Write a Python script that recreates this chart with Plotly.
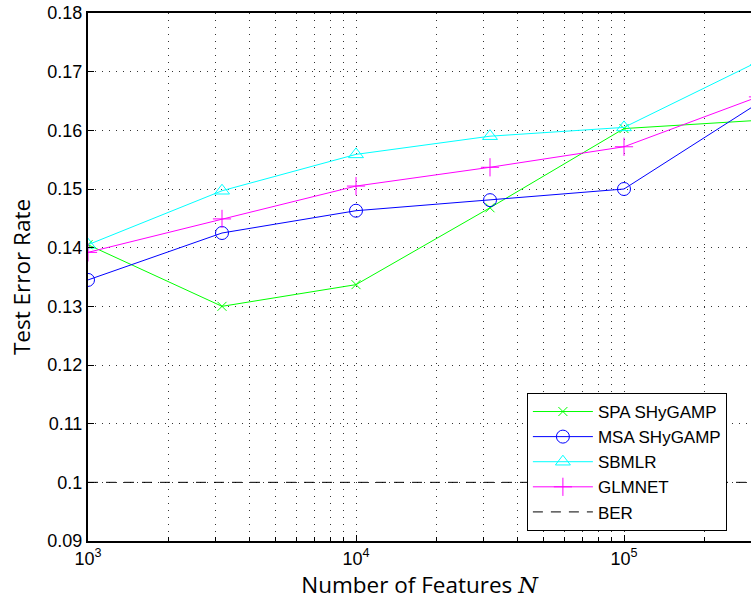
import plotly.graph_objects as go

N = [1e3, 10**3.5, 1e4, 10**4.5, 1e5, 10**5.5]
spa = [0.1405, 0.1300, 0.1337, 0.1468, 0.1603, 0.1617]
msa = [0.1345, 0.1425, 0.1463, 0.1481, 0.1500, 0.1646]
sbmlr = [0.1405, 0.1497, 0.1559, 0.1590, 0.1605, 0.1717]
glmnet = [0.1392, 0.1449, 0.1505, 0.1537, 0.1572, 0.1657]
ber = [0.1] * 6

ytick_vals = [0.09, 0.10, 0.11, 0.12, 0.13, 0.14, 0.15, 0.16, 0.17, 0.18]
ytick_text = ["0.09", "0.1", "0.11", "0.12", "0.13", "0.14", "0.15", "0.16", "0.17", "0.18"]
xtick_vals = [1e3, 1e4, 1e5]
xtick_text = ["10<sup>3</sup>", "10<sup>4</sup>", "10<sup>5</sup>"]

fig = go.Figure()
series = [
    ("SPA SHyGAMP", spa, "#00ff00", "x-thin-open", 9),
    ("MSA SHyGAMP", msa, "#0000ff", "circle-open", 13),
    ("SBMLR", sbmlr, "#00ffff", "triangle-up-open", 13),
    ("GLMNET", glmnet, "#ff00ff", "cross-thin-open", 13),
]
for name, y, c, sym, sz in series:
    fig.add_trace(go.Scatter(x=N, y=y, name=name, mode="lines+markers",
                             line=dict(color=c, width=1),
                             marker=dict(symbol=sym, size=sz, color=c,
                                         line=dict(color=c, width=1))))
fig.add_trace(go.Scatter(x=N, y=ber, name="BER", mode="lines",
                         line=dict(color="black", width=1, dash="10px,8px")))

font = "Liberation Sans, Arial, sans-serif"
title_font = "Open Sans, sans-serif"
fig.update_layout(
    width=751, height=605,
    margin=dict(l=88, r=0, t=13, b=64),
    plot_bgcolor="white", paper_bgcolor="white",
    font=dict(family=font, size=18, color="black"),
    showlegend=True,
    legend=dict(x=0.662, y=0.019, xanchor="left", yanchor="bottom",
                bgcolor="white", bordercolor="black", borderwidth=1,
                font=dict(size=17), itemwidth=60, tracegroupgap=0,
                traceorder="normal"),
)
fig.update_xaxes(
    type="log", range=[3, 3 + 663 / 268],
    tickvals=xtick_vals, ticktext=xtick_text,
    ticks="inside", ticklen=6, tickcolor="black",
    showline=True, linecolor="black", linewidth=2, mirror=True,
    showgrid=True, gridcolor="#333", griddash="1px,6px", gridwidth=1,
    minor=dict(ticks="inside", ticklen=4, tickcolor="black", showgrid=True,
               gridcolor="#333", griddash="1px,6px", gridwidth=1, dtick="D1"),
    zeroline=False,
    title=dict(text="Number of Features <span style=\"font-family:'DejaVu Serif'\"><i>N</i></span>",
               font=dict(size=22.5, family=title_font), standoff=10),
)
fig.update_yaxes(
    range=[0.09, 0.18],
    tickvals=ytick_vals, ticktext=ytick_text,
    ticks="inside", ticklen=6, tickcolor="black",
    showline=True, linecolor="black", linewidth=2, mirror=False,
    showgrid=True, gridcolor="#333", griddash="1px,6px", gridwidth=1,
    zeroline=False,
    title=dict(text="Test Error Rate", font=dict(size=22.5, family=title_font), standoff=10),
)
fig.write_html("out.html")
